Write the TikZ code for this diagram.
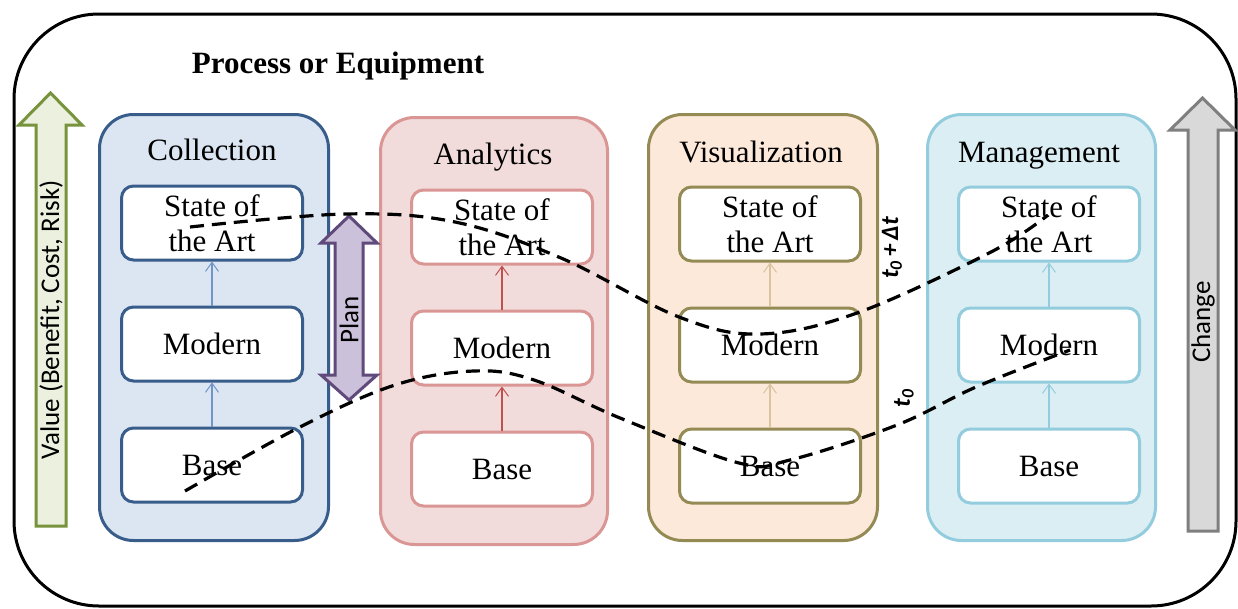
\documentclass[tikz,border=0pt]{standalone}
\usepackage{fontspec}
\setmainfont{Liberation Serif}
\newfontfamily\calfont{Carlito}
\usetikzlibrary{arrows.meta}
\definecolor{cAfill}{HTML}{DCE6F2}\definecolor{cAline}{HTML}{385D8A}\definecolor{cAarr}{HTML}{6F95C9}
\definecolor{cBfill}{HTML}{F2DCDB}\definecolor{cBline}{HTML}{D99694}\definecolor{cBarr}{HTML}{C0504D}
\definecolor{cCfill}{HTML}{FDE9D9}\definecolor{cCline}{HTML}{948A54}\definecolor{cCarr}{HTML}{D9C3A0}
\definecolor{cDfill}{HTML}{DBEEF4}\definecolor{cDline}{HTML}{93CDDD}\definecolor{cDarr}{HTML}{93CDDD}
\definecolor{grfill}{HTML}{EBF1DE}\definecolor{grline}{HTML}{77933C}
\definecolor{gyfill}{HTML}{D9D9D9}\definecolor{gyline}{HTML}{7F7F7F}
\definecolor{pufill}{HTML}{CCC1DA}\definecolor{puline}{HTML}{604A7B}
\begin{document}
\begin{tikzpicture}[x=1pt,y=-1pt,
  colbox/.style={draw, line width=3pt, rounded corners=34pt, minimum width=229pt, minimum height=426pt, anchor=north west, inner sep=0pt},
  inbox/.style={draw, fill=white, line width=3pt, rounded corners=12pt, minimum width=181pt, minimum height=74pt, inner sep=0pt, align=center, font=\fontsize{31}{35}\selectfont},
  title/.style={font=\fontsize{31}{35}\selectfont, inner sep=0pt, anchor=base},
  link/.style={line width=1.2pt, -{Straight Barb[length=9pt,width=13pt,line width=1pt]}},
  bigarrow/.style={line width=3pt, line join=miter},
  sidelabel/.style={rotate=90, font=\calfont\fontsize{27}{30}\selectfont, inner sep=0pt},
  curve/.style={line width=3.2pt, dash pattern=on 14pt off 8pt},
  tlabel/.style={rotate=90, font=\calfont\bfseries\itshape\fontsize{25}{27}\selectfont, inner sep=0pt}]
\useasboundingbox (0,0) rectangle (1238,608);
\fill[white] (0,0) rectangle (1238,608);
% outer frame
\draw[line width=3pt, rounded corners=85pt] (14,14) rectangle (1236,606);
\node[font=\bfseries\fontsize{31}{34}\selectfont, inner sep=0pt, anchor=base] (ttl) at (338,73) {Process or Equipment};
% side arrows
\draw[bigarrow, draw=grline, fill=grfill] (36,526) -- (36,125) -- (19,125) -- (50.5,93) -- (82,125) -- (66,125) -- (66,526) -- cycle;
\node[sidelabel] (val) at (51,320) {Value (Benefit, Cost, Risk)};
\draw[bigarrow, draw=gyline, fill=gyfill] (1188,531) -- (1188,130) -- (1170,130) -- (1202.5,98) -- (1235,130) -- (1218,130) -- (1218,531) -- cycle;
\node[sidelabel] (chg) at (1203,322) {Change};
% columns
\node[colbox, draw=cAline, fill=cAfill] (colA) at (98,113) {};
\node[colbox, draw=cBline, fill=cBfill, minimum width=227pt, minimum height=427pt] (colB) at (379,116) {};
\node[colbox, draw=cCline, fill=cCfill] (colC) at (647,113) {};
\node[colbox, draw=cDline, fill=cDfill, minimum width=228pt] (colD) at (926,113) {};
\node[title] (tA) at (212,160) {Collection};
\node[title] (tB) at (493,164) {Analytics};
\node[title] (tC) at (761,162) {Visualization};
\node[title] (tD) at (1039,162) {Management};
% inner boxes
\foreach \c/\x/\ya/\yb/\yc in {A/212/223/344/465, B/502/227/348/469, C/770/224/345/466, D/1049/224/345/466}{
  \node[inbox, draw=c\c line] (\c3) at (\x,\ya) {State of\\the Art};
  \node[inbox, draw=c\c line] (\c2) at (\x,\yb) {Modern};
  \node[inbox, draw=c\c line] (\c1) at (\x,\yc) {Base};
  \draw[link, draw=c\c arr] (\c1.north) -- (\c2.south);
  \draw[link, draw=c\c arr] (\c2.north) -- (\c3.south);
}
% plan arrow
\draw[bigarrow, draw=puline, fill=pufill] (349,216) -- (377,243) -- (363,243) -- (363,375) -- (377,375) -- (349,400) -- (321,375) -- (335,375) -- (335,243) -- (321,243) -- cycle;
\node[sidelabel] (plan) at (349,320) {Plan};
% curves
\draw[curve] plot[smooth, tension=0.6] coordinates {(190,227) (345,214) (455,222) (561,258) (679,317) (760,334) (857,313) (991,252) (1048,215)};
\draw[curve] plot[smooth, tension=0.6] coordinates {(185,491) (300,427) (395,385) (474,371) (534,380) (620,418) (739,463) (790,460) (897,425) (976,387) (1070,350)};
\node[tlabel] (tdt) at (892,248) {t\textsubscript{0}\,+\,Δt};
\node[tlabel] (t0) at (904,398) {t\textsubscript{0}};
\end{tikzpicture}
\end{document}
